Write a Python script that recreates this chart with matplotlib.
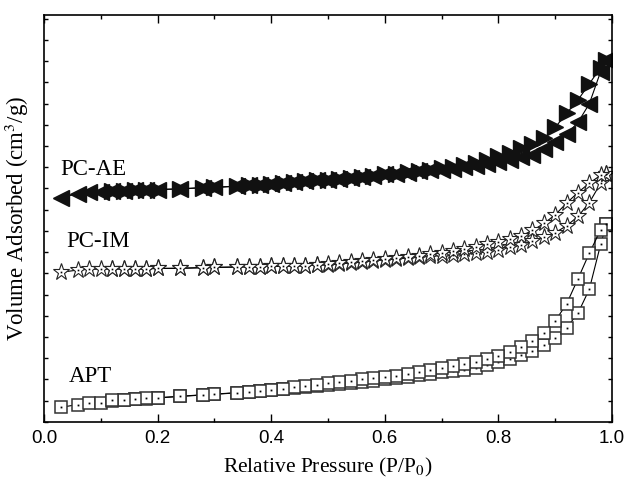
import numpy as np
import matplotlib
matplotlib.use("Agg")
from matplotlib import pyplot as plt
from matplotlib.ticker import MultipleLocator

# relative pressure grid (adsorption, desorption)
p_ads = [0.03, 0.06, 0.08, 0.10, 0.12, 0.14, 0.16, 0.18, 0.20, 0.24, 0.28, 0.30,
         0.34, 0.36, 0.38, 0.40, 0.42, 0.44, 0.46, 0.48, 0.50, 0.52, 0.54, 0.56,
         0.58, 0.60, 0.62, 0.64, 0.66, 0.68, 0.70, 0.72, 0.74, 0.76, 0.78, 0.80,
         0.82, 0.84, 0.86, 0.88, 0.90, 0.92, 0.94, 0.96, 0.98, 0.99]
p_des = [0.99, 0.98, 0.96, 0.94, 0.92, 0.90, 0.88, 0.86, 0.84, 0.82, 0.80, 0.78,
         0.76, 0.74, 0.72, 0.70, 0.68, 0.66, 0.64, 0.62, 0.60, 0.58, 0.56, 0.54,
         0.52, 0.50, 0.48, 0.46, 0.44, 0.42, 0.40, 0.38, 0.36, 0.34, 0.30, 0.28,
         0.24, 0.20, 0.18, 0.16, 0.14, 0.12]

# APT (arbitrary offset units)
apt_ads = [0.69, 0.82, 0.88, 0.91, 0.98, 1.02, 1.06, 1.09, 1.13, 1.20, 1.27, 1.30,
           1.37, 1.41, 1.45, 1.49, 1.53, 1.58, 1.63, 1.68, 1.73, 1.78, 1.84, 1.89,
           1.95, 2.00, 2.06, 2.12, 2.19, 2.26, 2.33, 2.40, 2.47, 2.55, 2.66, 2.80,
           2.95, 3.15, 3.36, 3.62, 3.96, 4.44, 5.12, 6.25, 8.37, 9.32]
apt_des = [9.32, 9.05, 7.95, 6.74, 5.56, 4.76, 4.20, 3.80, 3.55, 3.28, 3.12, 2.97,
           2.84, 2.72, 2.63, 2.52, 2.43, 2.34, 2.26, 2.18, 2.12, 2.06, 2.00, 1.95,
           1.88, 1.82, 1.76, 1.70, 1.63, 1.57, 1.52, 1.47, 1.43, 1.38, 1.31, 1.28,
           1.21, 1.14, 1.11, 1.08, 1.05, 1.01]

# PC-IM
im_ads = [7.05, 7.16, 7.19, 7.20, 7.21, 7.21, 7.22, 7.22, 7.23, 7.24, 7.27, 7.28,
          7.30, 7.31, 7.32, 7.33, 7.34, 7.35, 7.37, 7.39, 7.41, 7.45, 7.50, 7.55,
          7.60, 7.64, 7.68, 7.72, 7.76, 7.80, 7.84, 7.87, 7.90, 7.94, 8.02, 8.12,
          8.22, 8.34, 8.52, 8.70, 8.92, 9.24, 9.68, 10.33, 11.25, 11.69]
im_des = [11.69, 11.62, 11.25, 10.81, 10.31, 9.76, 9.35, 9.02, 8.77, 8.62, 8.50, 8.38,
          8.24, 8.13, 8.05, 7.97, 7.90, 7.83, 7.77, 7.71, 7.67, 7.62, 7.57, 7.52,
          7.47, 7.43, 7.40, 7.37, 7.35, 7.34, 7.33, 7.32, 7.31, 7.30, 7.28, 7.27,
          7.24, 7.23, 7.22, 7.22, 7.21, 7.21]

# PC-AE
ae_ads = [10.57, 10.76, 10.82, 10.85, 10.89, 10.90, 10.92, 10.93, 10.95, 10.98, 11.04, 11.05,
          11.11, 11.15, 11.18, 11.23, 11.25, 11.30, 11.33, 11.38, 11.42, 11.46, 11.51, 11.56,
          11.61, 11.66, 11.70, 11.75, 11.80, 11.85, 11.89, 11.94, 11.99, 12.05, 12.14, 12.23,
          12.34, 12.46, 12.60, 12.88, 13.17, 13.56, 14.11, 14.99, 16.51, 17.05]
ae_des = [17.05, 16.70, 15.93, 15.17, 14.54, 13.88, 13.37, 13.08, 12.90, 12.67, 12.51, 12.36,
          12.22, 12.11, 12.03, 11.95, 11.88, 11.82, 11.76, 11.70, 11.66, 11.61, 11.56, 11.51,
          11.46, 11.42, 11.38, 11.33, 11.30, 11.25, 11.23, 11.18, 11.15, 11.11, 11.05, 11.04,
          10.98, 10.95, 10.93, 10.92, 10.90, 10.89]

labels = ["APT", "PC-IM", "PC-AE"]
label_pos = [(0.043, 1.90), (0.040, 8.25), (0.028, 11.64)]

plt.rcParams['font.family'] = ['Liberation Serif', 'DejaVu Serif']
plt.rcParams['mathtext.fontset'] = 'stix'

fig = plt.figure(figsize=(6.29, 4.80), dpi=100)
ax = fig.add_axes([0.070, 0.121, 0.903, 0.848])

lw = 0.8
# APT: open squares with dot
for x, y in [(p_ads, apt_ads), (p_des, apt_des)]:
    ax.plot(x, y, '-', color='black', lw=lw, marker='s', ms=8,
            mfc='white', mec='#333333', mew=1.1)
    ax.plot(x, y, ls='none', marker='s', ms=1.3, mfc='black', mec='black', mew=0)

# PC-IM: open stars with dot
for x, y in [(p_ads, im_ads), (p_des, im_des)]:
    ax.plot(x, y, '-', color='black', lw=lw, marker='*', ms=12.5,
            mfc='white', mec='#222222', mew=0.8)
    ax.plot(x, y, ls='none', marker='s', ms=1.2, mfc='black', mec='black', mew=0)

# PC-AE: filled triangles
ax.plot(p_ads, ae_ads, '-', color='black', lw=lw, marker='<', ms=11.5,
        mfc='#111111', mec='#111111')
ax.plot(p_des, ae_des, '-', color='black', lw=lw, marker='>', ms=11.5,
        mfc='#111111', mec='#111111')

for t, (tx, ty) in zip(labels, label_pos):
    ax.text(tx, ty, t, fontsize=16.5, ha='left', va='baseline')

ax.set_xlim(0.0, 1.0)
ax.set_ylim(0, 19.18)
ax.xaxis.set_major_locator(MultipleLocator(0.2))
ax.xaxis.set_minor_locator(MultipleLocator(0.1))
ax.yaxis.set_major_locator(MultipleLocator(1))
ax.set_yticklabels([])
ax.tick_params(axis='x', which='major', direction='in', length=6, width=1,
               top=True, labelsize=13.5, pad=6, labelfontfamily='Liberation Sans')
ax.tick_params(axis='x', which='minor', direction='in', length=3, width=1, top=True)
ax.tick_params(axis='y', which='major', direction='in', length=3, width=1, right=True)
ax.xaxis.set_major_formatter(matplotlib.ticker.FormatStrFormatter('%.1f'))
for s in ax.spines.values():
    s.set_linewidth(1.2)

ax.set_xlabel(r'Relative Pressure (P/P$_0$)', fontsize=15.5, labelpad=6)
ax.set_ylabel(r'Volume Adsorbed (cm$^3$/g)', fontsize=16.5, labelpad=6)

fig.savefig('out.png', dpi=100)
